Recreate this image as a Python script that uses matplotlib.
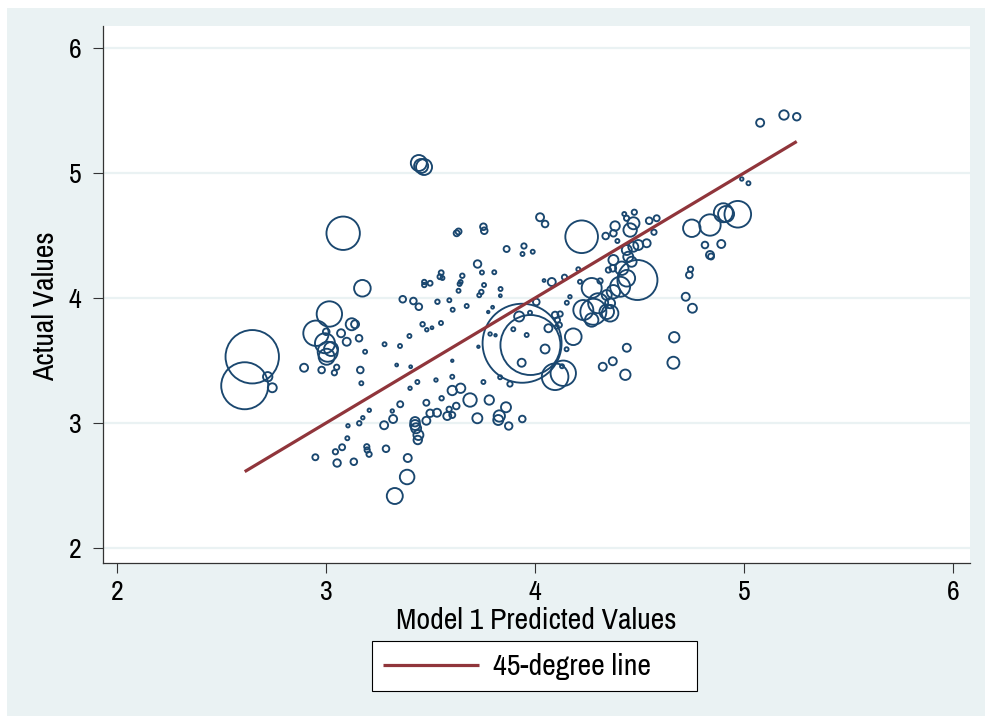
import matplotlib
matplotlib.use("Agg")
import matplotlib.pyplot as plt
from matplotlib.patches import Rectangle

# ---------------- data ----------------
predicted = [
    2.647, 2.611, 2.721, 2.743,
    3.016, 2.952, 2.995, 3.008, 3.003, 3.123, 3.139, 3.072, 3.099, 3.158, 2.895, 2.979,
    3.040, 3.051, 3.164, 3.187, 3.169, 3.001, 3.024, 3.082, 3.174, 3.444, 3.455, 3.469,
    3.625, 3.634, 3.753, 3.757, 3.864, 3.947, 3.940, 3.989, 4.024, 4.048, 3.725, 3.746,
    3.805, 3.551, 3.545, 3.557, 3.470, 3.470, 3.498, 3.652, 3.644, 3.639, 3.756, 3.743,
    3.733, 3.634, 3.835, 3.834, 3.367, 3.418, 3.444, 3.533, 3.590, 3.606, 3.673, 3.776,
    3.797, 3.462, 3.482, 3.507, 3.550, 3.399, 3.280, 3.354, 3.785, 3.811, 3.896, 3.960,
    3.729, 3.924, 4.006, 3.976, 4.080, 4.043, 4.141, 4.207, 4.215, 4.167, 4.152, 4.311,
    3.938, 3.978, 4.223, 4.490,
    4.096, 4.120, 4.107, 4.116, 4.104, 4.064, 4.048, 4.151, 4.183, 4.096, 4.135, 4.129,
    3.936, 3.604, 3.753, 3.833, 3.880, 3.604, 3.526, 3.437, 3.402, 3.338, 3.405, 3.317,
    3.207, 3.176, 3.159, 3.105, 3.102, 3.553, 3.355, 3.480, 3.604, 3.644, 3.689, 3.781,
    3.623, 3.589, 3.580, 3.604, 3.531, 3.498, 3.480, 3.426, 3.426, 3.431, 3.442, 3.439,
    3.321, 3.278, 3.195, 3.197, 3.206, 3.287, 3.391, 3.388, 3.329, 2.949, 3.045, 3.077,
    3.053, 3.133, 3.724, 3.829, 3.824, 3.861, 3.874, 3.939,
    4.324, 4.372, 4.432, 4.439, 4.666, 4.662, 4.721, 4.753, 4.744, 4.738, 4.750, 4.837,
    4.901, 4.914, 4.970, 4.813, 4.891, 4.837, 4.842, 4.989, 5.021, 5.077, 5.191, 5.252,
    4.338, 4.375, 4.383, 4.427, 4.438, 4.475, 4.455, 4.471, 4.546, 4.582, 4.569, 4.394,
    4.439, 4.470, 4.494, 4.534, 4.446, 4.462, 4.375, 4.351, 4.372, 4.415, 4.439, 4.407,
    4.375, 4.343, 4.271, 4.359, 4.343, 4.279, 4.231, 4.302, 4.359, 4.271,
]
actual = [
    3.530, 3.298, 3.370, 3.282,
    3.872, 3.718, 3.638, 3.570, 3.530, 3.790, 3.790, 3.718, 3.650, 3.678, 3.442, 3.424,
    3.402, 3.446, 3.424, 3.570, 3.318, 3.730, 3.592, 4.518, 4.078, 5.080, 5.056, 5.048,
    4.518, 4.532, 4.570, 4.538, 4.392, 4.416, 4.352, 4.370, 4.646, 4.592, 4.272, 4.204,
    4.206, 4.202, 4.170, 4.160, 4.128, 4.104, 4.118, 4.178, 4.128, 4.112, 4.104, 4.048,
    4.022, 4.058, 4.072, 4.018, 3.990, 3.976, 3.930, 3.970, 3.982, 3.906, 3.936, 3.888,
    3.926, 3.790, 3.746, 3.762, 3.800, 3.696, 3.630, 3.616, 3.712, 3.702, 3.750, 3.704,
    3.610, 3.852, 3.968, 3.882, 4.128, 4.140, 4.166, 4.230, 4.130, 4.010, 3.962, 4.136,
    3.638, 3.624, 4.490, 4.144,
    3.864, 3.872, 3.824, 3.784, 3.770, 3.758, 3.592, 3.590, 3.690, 3.370, 3.398, 3.454,
    3.482, 3.370, 3.328, 3.366, 3.312, 3.498, 3.344, 3.328, 3.278, 3.464, 3.450, 3.096,
    3.102, 3.042, 2.998, 2.978, 2.878, 3.198, 3.150, 3.162, 3.260, 3.278, 3.184, 3.184,
    3.136, 3.110, 3.056, 3.064, 3.082, 3.078, 3.018, 3.010, 2.984, 2.958, 2.904, 2.864,
    3.032, 2.982, 2.810, 2.784, 2.750, 2.794, 2.720, 2.568, 2.416, 2.726, 2.770, 2.806,
    2.680, 2.690, 3.038, 3.056, 3.024, 3.126, 2.976, 3.032,
    3.450, 3.494, 3.386, 3.602, 3.686, 3.482, 4.010, 3.918, 4.230, 4.184, 4.558, 4.584,
    4.682, 4.672, 4.670, 4.424, 4.432, 4.344, 4.332, 4.952, 4.918, 5.402, 5.464, 5.450,
    4.496, 4.518, 4.576, 4.672, 4.638, 4.686, 4.544, 4.598, 4.618, 4.638, 4.526, 4.456,
    4.384, 4.410, 4.424, 4.438, 4.330, 4.290, 4.304, 4.224, 4.238, 4.238, 4.158, 4.090,
    4.050, 4.024, 4.080, 3.958, 3.890, 3.890, 3.904, 3.958, 3.878, 3.824,
]
weight = [
    713, 552, 22, 20,
    161, 161, 100, 100, 64, 36, 16, 16, 16, 11, 16, 11,
    7, 7, 11, 4, 4, 11, 49, 279, 69, 64, 49, 64,
    9, 9, 11, 11, 9, 7, 4, 4, 16, 11, 14, 4,
    4, 6, 6, 4, 5, 5, 6, 5, 4, 4, 4, 5,
    4, 4, 4, 2, 11, 11, 11, 5, 4, 4, 4, 1.5,
    2, 5, 3, 2, 4, 4, 4, 4, 3, 1.5, 4, 4,
    1.5, 25, 11, 4, 16, 2, 7, 4, 4, 3, 4, 7,
    1560, 900, 266, 400,
    11, 7, 7, 7, 4, 16, 20, 4, 69, 177, 161, 4,
    16, 4, 4, 4, 7, 1.5, 3, 4, 3, 2, 2, 3,
    3, 3, 5, 3, 4, 5, 9, 9, 22, 22, 45, 22,
    11, 7, 16, 9, 16, 14, 16, 22, 25, 25, 25, 18,
    16, 16, 7, 7, 7, 11, 16, 53, 64, 9, 7, 9,
    14, 11, 25, 32, 25, 25, 14, 11,
    16, 16, 27, 16, 27, 36, 16, 20, 7, 11, 76, 114,
    90, 64, 177, 11, 16, 16, 9, 3, 4, 16, 22, 14,
    11, 11, 22, 4, 7, 7, 45, 36, 11, 9, 7, 4,
    25, 25, 25, 16, 25, 25, 25, 7, 11, 45, 69, 100,
    45, 25, 100, 25, 53, 169, 100, 100, 69, 45,
]

x_ticks = [2, 3, 4, 5, 6]
y_ticks = [2, 3, 4, 5, 6]
x_label = "Model 1 Predicted Values"
y_label = "Actual Values"
legend_label = "45-degree line"

# ---------------- style ----------------
NAVY = "#1A476F"
CRAN = "#90353B"
BG = "#EAF2F3"
plt.rcParams["font.family"] = ["Archivo Narrow", "Liberation Sans", "DejaVu Sans"]

W, H, DPI = 985, 724, 100
fig = plt.figure(figsize=(W / DPI, H / DPI), dpi=DPI, facecolor="white")
fig.add_artist(Rectangle((7 / W, 8 / H), 978 / W, 708 / H, transform=fig.transFigure,
                         facecolor=BG, edgecolor="none", zorder=-5))

AX_L, AX_R, AX_T, AX_B = 103, 970, 26, 563
ax = fig.add_axes([AX_L / W, (H - AX_B) / H, (AX_R - AX_L) / W, (AX_B - AX_T) / H])
ax.set_zorder(1)
ax.set_facecolor("white")
ax.set_xlim(1.933, 6.081)
ax.set_ylim(1.88, 6.176)

for yt in y_ticks:
    ax.axhline(yt, color=BG, lw=1.6, zorder=1)

px2pt = 72 / DPI
sizes = [(2 * px2pt) ** 2 * w for w in weight]
ax.scatter(predicted, actual, s=sizes, facecolors="none", edgecolors=NAVY,
           linewidths=1.35, zorder=3)

lo, hi = min(predicted), max(predicted)
ax.plot([lo, hi], [lo, hi], color=CRAN, lw=2.3, zorder=4, label=legend_label,
        solid_capstyle="butt")

for s in ["top", "right"]:
    ax.spines[s].set_visible(False)
for s in ["left", "bottom"]:
    ax.spines[s].set_color("#333333")
    ax.spines[s].set_linewidth(0.9)

ax.set_xticks(x_ticks)
ax.set_yticks(y_ticks)
ax.tick_params(axis="both", direction="out", length=7.5, width=0.8, color="#333333",
               labelsize=20, labelcolor="black")
ax.tick_params(axis="x", pad=5)
ax.tick_params(axis="y", pad=8)
ax.set_xlabel(x_label, fontsize=21.5, labelpad=1)
ax.set_ylabel(y_label, fontsize=21.5)
ax.yaxis.set_label_coords(-44 / (AX_R - AX_L), 0.5 - 12 / (AX_B - AX_T))

# legend frame (Stata-style box, wider than its content)
fig.add_artist(Rectangle((372 / W, (H - 691) / H), 325 / W, 50 / H,
                         transform=fig.transFigure, facecolor="white",
                         edgecolor="black", lw=0.8, zorder=2))
leg = fig.legend(loc="center left", bbox_to_anchor=(383 / W, (H - 666.5) / H),
                 fontsize=21.5, frameon=False, handlelength=3.2,
                 handletextpad=0.5, borderpad=0, borderaxespad=0)
leg.set_zorder(3)

fig.savefig("out.png", dpi=DPI, facecolor="white")
